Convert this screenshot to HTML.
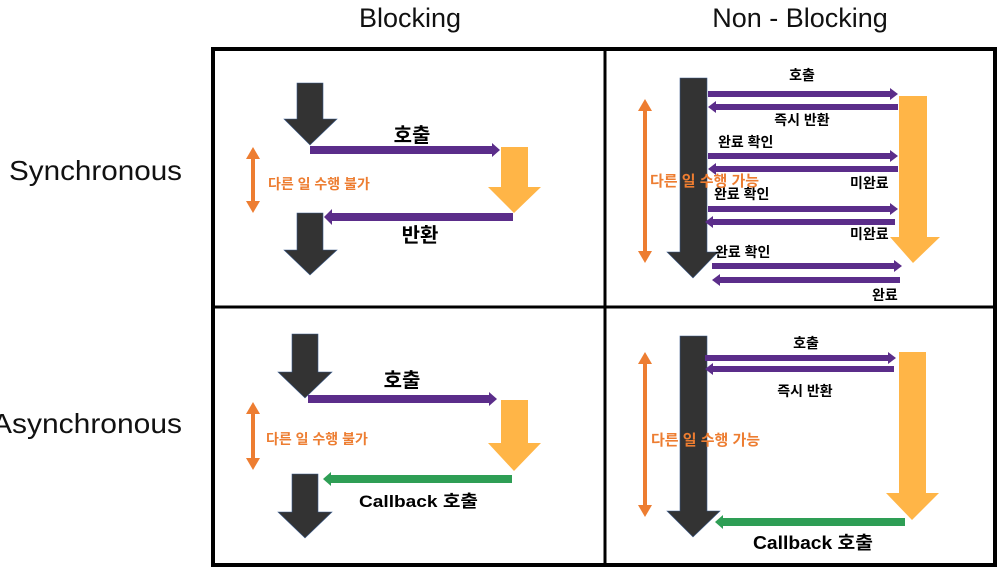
<!DOCTYPE html>
<html><head><meta charset="utf-8"><style>
html,body{margin:0;padding:0;background:#fff;}
svg{display:block;}
text{font-family:"Liberation Sans","Noto Sans CJK KR",sans-serif;}
.k{font-family:"Liberation Sans","Noto Sans CJK KR",sans-serif;font-weight:bold;}
.o{fill:#ED7D31;font-weight:bold;}
</style></head><body>
<svg width="1008" height="576" viewBox="0 0 1008 576" xmlns="http://www.w3.org/2000/svg">
<!-- headers -->
<text x="410" y="27" font-size="27" text-anchor="middle" fill="#111">Blocking</text>
<text x="800" y="27" font-size="27" text-anchor="middle" fill="#111">Non - Blocking</text>
<text x="9" y="180" font-size="28" fill="#111" textLength="173" lengthAdjust="spacingAndGlyphs">Synchronous</text>
<text x="-8" y="433" font-size="28" fill="#111" textLength="190" lengthAdjust="spacingAndGlyphs">Asynchronous</text>

<!-- grid -->
<rect x="213" y="49" width="782" height="516" fill="none" stroke="#000" stroke-width="4"/>
<line x1="605" y1="49" x2="605" y2="565" stroke="#000" stroke-width="3"/>
<line x1="213" y1="307" x2="995" y2="307" stroke="#000" stroke-width="3"/>

<!-- ===== Top-left ===== -->
<polygon points="297,83 323,83 323,119 337,119 310,145 284,119 297,119" fill="#333" stroke="#3a5a8a" stroke-width="0.6"/>
<polygon points="310,146 492,146 492,143 500,150 492,157 492,154 310,154" fill="#5B2D8A"/>
<text x="412" y="142" font-size="20" text-anchor="middle" class="k">호출</text>
<polygon points="501,147 528,147 528,187 541,187 514,213 488,187 501,187" fill="#FFB547"/>
<polygon points="513,213 332,213 332,209 324,217 332,225 332,221 513,221" fill="#5B2D8A"/>
<text x="420" y="242" font-size="20" text-anchor="middle" class="k">반환</text>
<polygon points="297,213 323,213 323,250 337,250 310,275 284,250 297,250" fill="#333" stroke="#3a5a8a" stroke-width="0.6"/>
<line x1="253" y1="155" x2="253" y2="205" stroke="#ED7D31" stroke-width="4"/>
<polygon points="253,147 260,159 246,159" fill="#ED7D31"/>
<polygon points="253,213 260,201 246,201" fill="#ED7D31"/>
<text x="268" y="189" font-size="14" class="o">다른 일 수행 불가</text>

<!-- ===== Top-right ===== -->
<polygon points="680,78 707,78 707,252 718,252 693,278 667,252 680,252" fill="#333" stroke="#3a5a8a" stroke-width="0.6"/>
<polygon points="899,96 927,96 927,237 940,237 913,263 890,237 899,237" fill="#FFB547"/>
<g fill="#5B2D8A">
<polygon points="708,91 890,91 890,88 898,94 890,100 890,97 708,97"/>
<polygon points="898,104 716,104 716,101 708,107 716,113 716,110 898,110"/>
<polygon points="708,153 890,153 890,150 898,156 890,162 890,159 708,159"/>
<polygon points="898,166 716,166 716,163 708,169 716,175 716,172 898,172"/>
<polygon points="708,206 890,206 890,203 898,209 890,215 890,212 708,212"/>
<polygon points="895,219 713,219 713,216 705,222 713,228 713,225 895,225"/>
<polygon points="712,263 894,263 894,260 902,266 894,272 894,269 712,269"/>
<polygon points="900,277 720,277 720,274 712,280 720,286 720,283 900,283"/>
</g>
<text x="802" y="80" font-size="14" text-anchor="middle" class="k">호출</text>
<text x="802" y="125" font-size="14" text-anchor="middle" class="k">즉시 반환</text>
<text x="718" y="147" font-size="14" class="k">완료 확인</text>
<text x="850" y="188" font-size="14" class="k">미완료</text>
<text x="714" y="199" font-size="14" class="k">완료 확인</text>
<text x="850" y="239" font-size="14" class="k">미완료</text>
<text x="715" y="257" font-size="14" class="k">완료 확인</text>
<text x="872" y="300" font-size="14" class="k">완료</text>
<line x1="645" y1="107" x2="645" y2="255" stroke="#ED7D31" stroke-width="4"/>
<polygon points="645,99 652,111 638,111" fill="#ED7D31"/>
<polygon points="645,263 652,251 638,251" fill="#ED7D31"/>
<text x="650" y="186" font-size="15" class="o">다른 일 수행 가능</text>

<!-- ===== Bottom-left ===== -->
<polygon points="292,334 318,334 318,372 332,372 305,398 278,372 292,372" fill="#333" stroke="#3a5a8a" stroke-width="0.6"/>
<polygon points="308,395 489,395 489,392 497,399 489,406 489,403 308,403" fill="#5B2D8A"/>
<text x="402" y="387" font-size="20" text-anchor="middle" class="k">호출</text>
<polygon points="501,400 528,400 528,443 541,443 514,471 488,443 501,443" fill="#FFB547"/>
<polygon points="512,475 331,475 331,472 323,479 331,486 331,483 512,483" fill="#2E9E55"/>
<text x="359" y="507" font-size="17" class="k" textLength="119" lengthAdjust="spacingAndGlyphs">Callback 호출</text>
<polygon points="292,474 318,474 318,512 332,512 305,538 278,512 292,512" fill="#333" stroke="#3a5a8a" stroke-width="0.6"/>
<line x1="253" y1="410" x2="253" y2="462" stroke="#ED7D31" stroke-width="4"/>
<polygon points="253,402 260,414 246,414" fill="#ED7D31"/>
<polygon points="253,470 260,458 246,458" fill="#ED7D31"/>
<text x="266" y="444" font-size="14" class="o">다른 일 수행 불가</text>

<!-- ===== Bottom-right ===== -->
<polygon points="680,336 707,336 707,511 720,511 693,537 667,511 680,511" fill="#333" stroke="#3a5a8a" stroke-width="0.6"/>
<polygon points="899,352 926,352 926,493 939,493 912,520 886,493 899,493" fill="#FFB547"/>
<polygon points="705,355 888,355 888,352 896,358 888,364 888,361 705,361" fill="#5B2D8A"/>
<polygon points="894,366 713,366 713,363 705,369 713,375 713,372 894,372" fill="#5B2D8A"/>
<text x="806" y="348" font-size="14" text-anchor="middle" class="k">호출</text>
<text x="805" y="396" font-size="14" text-anchor="middle" class="k">즉시 반환</text>
<polygon points="905,518 723,518 723,515 715,522 723,529 723,526 905,526" fill="#2E9E55"/>
<text x="753" y="549" font-size="18" class="k" textLength="120" lengthAdjust="spacingAndGlyphs">Callback 호출</text>
<line x1="645" y1="360" x2="645" y2="509" stroke="#ED7D31" stroke-width="4"/>
<polygon points="645,352 652,364 638,364" fill="#ED7D31"/>
<polygon points="645,517 652,505 638,505" fill="#ED7D31"/>
<text x="651" y="445" font-size="15" class="o">다른 일 수행 가능</text>
</svg>
</body></html>
